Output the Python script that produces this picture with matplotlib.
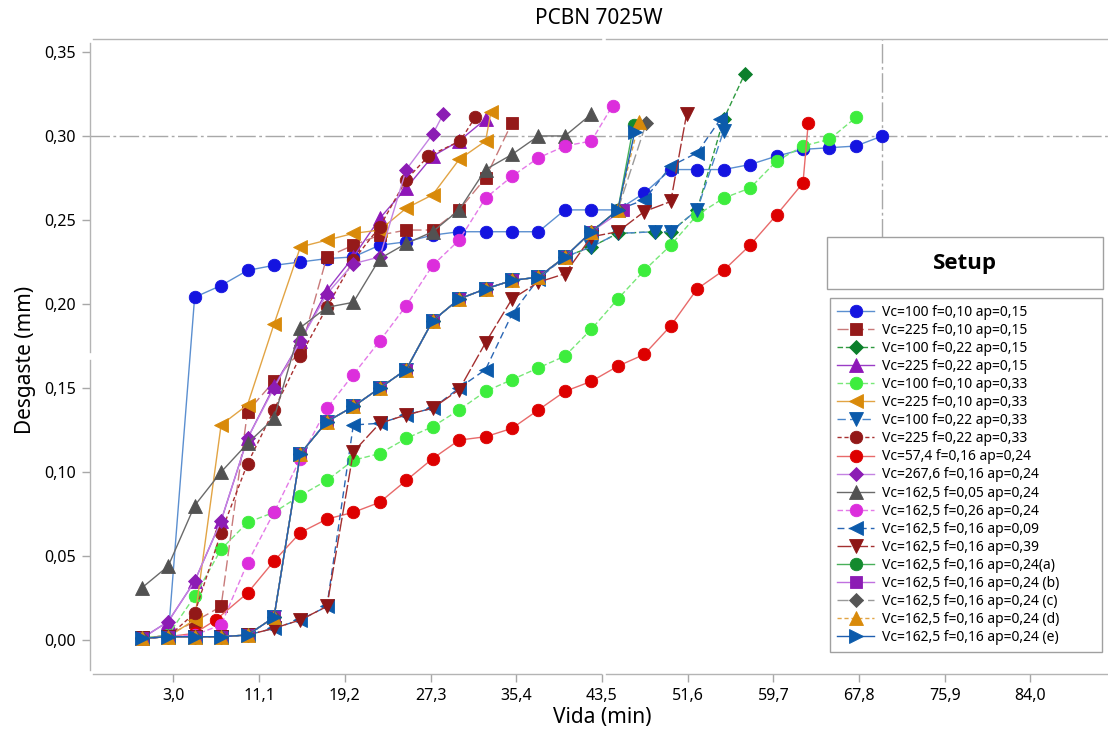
import numpy as np
import matplotlib
matplotlib.use('Agg')
import matplotlib.pyplot as plt
from matplotlib.patches import Rectangle

plt.rcParams['font.family'] = ['Noto Sans', 'DejaVu Sans']

# tiempos de medicion (min)
t = [0, 2.5, 5, 7.5, 10, 12.5, 15, 17.5, 20, 22.5, 25, 27.5, 30, 32.5, 35,
     37.5, 40, 42.5, 45, 47.5, 50, 52.5, 55, 57.5, 60, 62.5, 65, 67.5, 70]

# desgaste (mm) por setup
x1 = t[:29]
y1 = [0.001, 0.002, 0.204, 0.211, 0.220, 0.223, 0.225, 0.227, 0.228, 0.235, 0.237,
      0.241, 0.243, 0.243, 0.243, 0.243, 0.256, 0.256, 0.256, 0.266, 0.280, 0.280,
      0.280, 0.283, 0.288, 0.292, 0.293, 0.294, 0.300]
x2 = t[:15]
y2 = [0.001, 0.003, 0.011, 0.020, 0.136, 0.154, 0.172, 0.228, 0.235, 0.241, 0.244,
      0.244, 0.256, 0.275, 0.308]
x3 = t[:18] + [45, 48.5, 50, 52.5, 55, 57]
y3 = [0.001, 0.002, 0.002, 0.002, 0.003, 0.0135, 0.111, 0.130, 0.139, 0.150, 0.161,
      0.190, 0.203, 0.209, 0.214, 0.216, 0.228, 0.234, 0.242, 0.243, 0.243, 0.256,
      0.310, 0.337]
x4 = t[:14]
y4 = [0.001, 0.011, 0.035, 0.071, 0.120, 0.151, 0.178, 0.208, 0.228, 0.251, 0.269,
      0.288, 0.297, 0.310]
x5 = t[:28]
y5 = [0.001, 0.003, 0.026, 0.054, 0.070, 0.076, 0.086, 0.095, 0.107, 0.111, 0.120,
      0.127, 0.137, 0.148, 0.155, 0.162, 0.169, 0.185, 0.203, 0.220, 0.235, 0.253,
      0.263, 0.269, 0.285, 0.294, 0.298, 0.311]
x6 = t[:14] + [33.0]
y6 = [0.001, 0.002, 0.012, 0.128, 0.140, 0.188, 0.234, 0.238, 0.242, 0.244, 0.257,
      0.265, 0.286, 0.297, 0.314]
x7 = t[:18] + [45, 48.5, 50, 52.5, 55]
y7 = [0.001, 0.002, 0.002, 0.002, 0.003, 0.0135, 0.111, 0.130, 0.139, 0.150, 0.161,
      0.190, 0.203, 0.209, 0.214, 0.216, 0.228, 0.234, 0.242, 0.243, 0.243, 0.256,
      0.303]
x8 = [0, 2.5, 5, 7.5, 10, 12.5, 15, 17.5, 20, 22.5, 25, 27.1, 30.1, 31.5]
y8 = [0.001, 0.002, 0.016, 0.064, 0.105, 0.137, 0.169, 0.198, 0.226, 0.246, 0.274,
      0.288, 0.297, 0.311]
x9 = [0, 2.5, 5, 7, 10, 12.5, 15, 17.5, 20, 22.5, 25, 27.5, 30, 32.5, 35, 37.5, 40,
      42.5, 45, 47.5, 50, 52.5, 55, 57.5, 60, 62.5, 63]
y9 = [0.001, 0.002, 0.004, 0.012, 0.028, 0.047, 0.064, 0.072, 0.076, 0.082, 0.095,
      0.108, 0.119, 0.121, 0.126, 0.137, 0.148, 0.154, 0.163, 0.170, 0.187, 0.209,
      0.220, 0.235, 0.253, 0.272, 0.308]
x10 = t[:12] + [28.5]
y10 = [0.001, 0.011, 0.035, 0.071, 0.120, 0.150, 0.178, 0.206, 0.224, 0.228, 0.280,
       0.301, 0.313]
x11 = t[:18]
y11 = [0.031, 0.044, 0.080, 0.100, 0.117, 0.132, 0.186, 0.198, 0.201, 0.227, 0.236,
       0.243, 0.256, 0.280, 0.289, 0.300, 0.300, 0.313]
x12 = t[:18] + [44.5]
y12 = [0.001, 0.002, 0.003, 0.009, 0.046, 0.076, 0.108, 0.138, 0.158, 0.178, 0.199,
       0.223, 0.238, 0.263, 0.276, 0.287, 0.294, 0.297, 0.318]
x13 = t[:22] + [54.7]
y13 = [0.001, 0.002, 0.002, 0.002, 0.003, 0.007, 0.012, 0.020, 0.128, 0.129, 0.134,
       0.138, 0.150, 0.161, 0.194, 0.215, 0.228, 0.243, 0.256, 0.262, 0.282, 0.290,
       0.310]
x14 = t[:21] + [51.5]
y14 = [0.001, 0.002, 0.002, 0.002, 0.003, 0.007, 0.012, 0.020, 0.112, 0.129, 0.134,
       0.138, 0.149, 0.177, 0.203, 0.213, 0.218, 0.240, 0.243, 0.255, 0.261, 0.313]
base = [0.001, 0.002, 0.002, 0.002, 0.003, 0.0135, 0.111, 0.130, 0.139, 0.150, 0.161,
        0.190, 0.203, 0.209, 0.214, 0.216, 0.228, 0.243]
x15 = t[:19] + [46.5]
y15 = base + [0.256, 0.3065]
x16 = t[:18] + [45.5]
y16 = base + [0.256]
x17 = t[:19] + [47.7]
y17 = base + [0.256, 0.308]
x18 = t[:19] + [47.0]
y18 = base + [0.256, 0.3085]
x19 = t[:19] + [46.6]
y19 = base + [0.256, 0.3026]

labels = ['Vc=100 f=0,10 ap=0,15', 'Vc=225 f=0,10 ap=0,15', 'Vc=100 f=0,22 ap=0,15',
          'Vc=225 f=0,22 ap=0,15', 'Vc=100 f=0,10 ap=0,33', 'Vc=225 f=0,10 ap=0,33',
          'Vc=100 f=0,22 ap=0,33', 'Vc=225 f=0,22 ap=0,33', 'Vc=57,4 f=0,16 ap=0,24',
          'Vc=267,6 f=0,16 ap=0,24', 'Vc=162,5 f=0,05 ap=0,24', 'Vc=162,5 f=0,26 ap=0,24',
          'Vc=162,5 f=0,16 ap=0,09', 'Vc=162,5 f=0,16 ap=0,39', 'Vc=162,5 f=0,16 ap=0,24(a)',
          'Vc=162,5 f=0,16 ap=0,24 (b)', 'Vc=162,5 f=0,16 ap=0,24 (c)',
          'Vc=162,5 f=0,16 ap=0,24 (d)', 'Vc=162,5 f=0,16 ap=0,24 (e)']

xs = [x1, x2, x3, x4, x5, x6, x7, x8, x9, x10, x11, x12, x13, x14, x15, x16, x17, x18, x19]
ys = [y1, y2, y3, y4, y5, y6, y7, y8, y9, y10, y11, y12, y13, y14, y15, y16, y17, y18, y19]

# marcador, color marcador, color linea, trazo, tamano
estilos = [
    ('o', '#1414e0', '#5b8fd0', '-', 9),
    ('s', '#951a1a', '#c87a7a', (0, (8, 3)), 8),
    ('D', '#0b7f2b', '#2f9a40', (0, (4, 2)), 7.5),
    ('^', '#8e16b8', '#9a3cc6', '-', 9.5),
    ('o', '#3ded3d', '#78e878', (0, (4, 2)), 9),
    ('<', '#d98a0a', '#e2a444', '-', 10),
    ('v', '#0b5aab', '#4a86ca', (0, (6, 3)), 10),
    ('o', '#921818', '#a83030', (0, (3, 2)), 9),
    ('o', '#dd0000', '#e86a6a', '-', 9),
    ('D', '#8c1cb4', '#c483e2', '-', 7.5),
    ('^', '#525252', '#6a6a6a', '-', 9.5),
    ('o', '#dc2edc', '#e47ae8', (0, (4, 2)), 9),
    ('<', '#0b5aab', '#2a66b4', (0, (5, 3)), 10),
    ('v', '#8e1616', '#a43030', (0, (10, 2)), 10),
    ('o', '#138a2e', '#48b05a', '-', 9),
    ('s', '#8c1cb4', '#c070e0', '-', 8),
    ('D', '#555555', '#9a9a9a', (0, (8, 3)), 7.5),
    ('^', '#d98a0a', '#e2a444', (0, (3, 2)), 9.5),
    ('>', '#0b5aab', '#1f5fb0', '-', 10),
]

W, H = 1108, 736
fig = plt.figure(figsize=(W / 100, H / 100), dpi=100)
ax = fig.add_axes([90 / W, 1 - 674 / H, 1018 / W, 635 / H])

handles = []
for x, y, lab, (mk, mc, lc, ls, ms) in zip(xs, ys, labels, estilos):
    h, = ax.plot(x, y, color=lc, linestyle=ls, linewidth=1.0, marker=mk,
                 markersize=ms, markerfacecolor=mc, markeredgecolor=mc,
                 markeredgewidth=0.6, label=lab, zorder=3)
    handles.append(h)

# lineas de referencia
ref = (0, (14, 2.5, 2, 2.5))
ax.axhline(0.30, color='#a8a8a8', linestyle=ref, linewidth=1.0, zorder=1)
ax.plot([70, 70], [0.239, 0.36], color='#a8a8a8', linestyle=ref, linewidth=1.0, zorder=1)

ax.set_xlim(-4.89, 91.33)
ax.set_ylim(-0.0202, 0.3577)

xt = [3.0, 11.1, 19.2, 27.3, 35.4, 43.5, 51.6, 59.7, 67.8, 75.9, 84.0]
xt_lab = ['3,0', '11,1', '19,2', '27,3', '35,4', '43,5', '51,6', '59,7', '67,8', '75,9', '84,0']
yt = [0.0, 0.05, 0.10, 0.15, 0.20, 0.25, 0.30, 0.35]
yt_lab = ['0,00', '0,05', '0,10', '0,15', '0,20', '0,25', '0,30', '0,35']
ax.set_xticks(xt)
ax.set_xticklabels(xt_lab)
ax.set_yticks(yt)
ax.set_yticklabels(yt_lab)
ax.tick_params(axis='both', direction='out', color='#a8a8a8', length=6, width=1,
               labelsize=11.5, pad=4)

for s in ax.spines.values():
    s.set_visible(False)
gris = '#b4b4b4'
tr = ax.transAxes
ax.plot([0, 0], [0.006, 0.4945], color=gris, lw=1, transform=tr, clip_on=False)
ax.plot([0, 0], [0.5071, 0.9937], color=gris, lw=1, transform=tr, clip_on=False)
ax.plot([0.003, 0.502], [0, 0], color=gris, lw=1, transform=tr, clip_on=False)
ax.plot([0.507, 1], [0, 0], color=gris, lw=1, transform=tr, clip_on=False)
ax.plot([0.003, 0.502], [1, 1], color=gris, lw=1, transform=tr, clip_on=False)
ax.plot([0.507, 1], [1, 1], color=gris, lw=1, transform=tr, clip_on=False)

fig.text(599 / W, 1 - 18 / H, 'PCBN 7025W', ha='center', va='center', fontsize=15)
fig.text(602 / W, 1 - 718 / H, 'Vida (min)', ha='center', va='center', fontsize=15)
fig.text(26 / W, 1 - 360 / H, 'Desgaste (mm)', ha='center', va='center', fontsize=15,
         rotation=90)

# caja del titulo de la leyenda
fig.add_artist(Rectangle((827 / W, 1 - 289 / H), 276 / W, 52 / H,
                         transform=fig.transFigure, facecolor='white',
                         edgecolor='#a0a0a0', linewidth=1, zorder=5))
fig.text(965 / W, 1 - 264 / H, 'Setup', ha='center', va='center', fontsize=16,
         fontweight='bold', family=['Open Sans', 'Lato', 'DejaVu Sans'], zorder=6)

leg = ax.legend(handles=handles, loc='upper left',
                bbox_to_anchor=(830 / W, 1 - 298 / H, 272 / W, 0.0),
                bbox_transform=fig.transFigure, mode='expand', fontsize=10,
                frameon=True, fancybox=False, edgecolor='#a0a0a0', framealpha=1,
                labelspacing=0.22, handlelength=2.7, handletextpad=0.55,
                borderpad=0.5, borderaxespad=0)
leg.get_frame().set_linewidth(1)
leg.set_zorder(6)

fig.savefig('out.png', dpi=100)
